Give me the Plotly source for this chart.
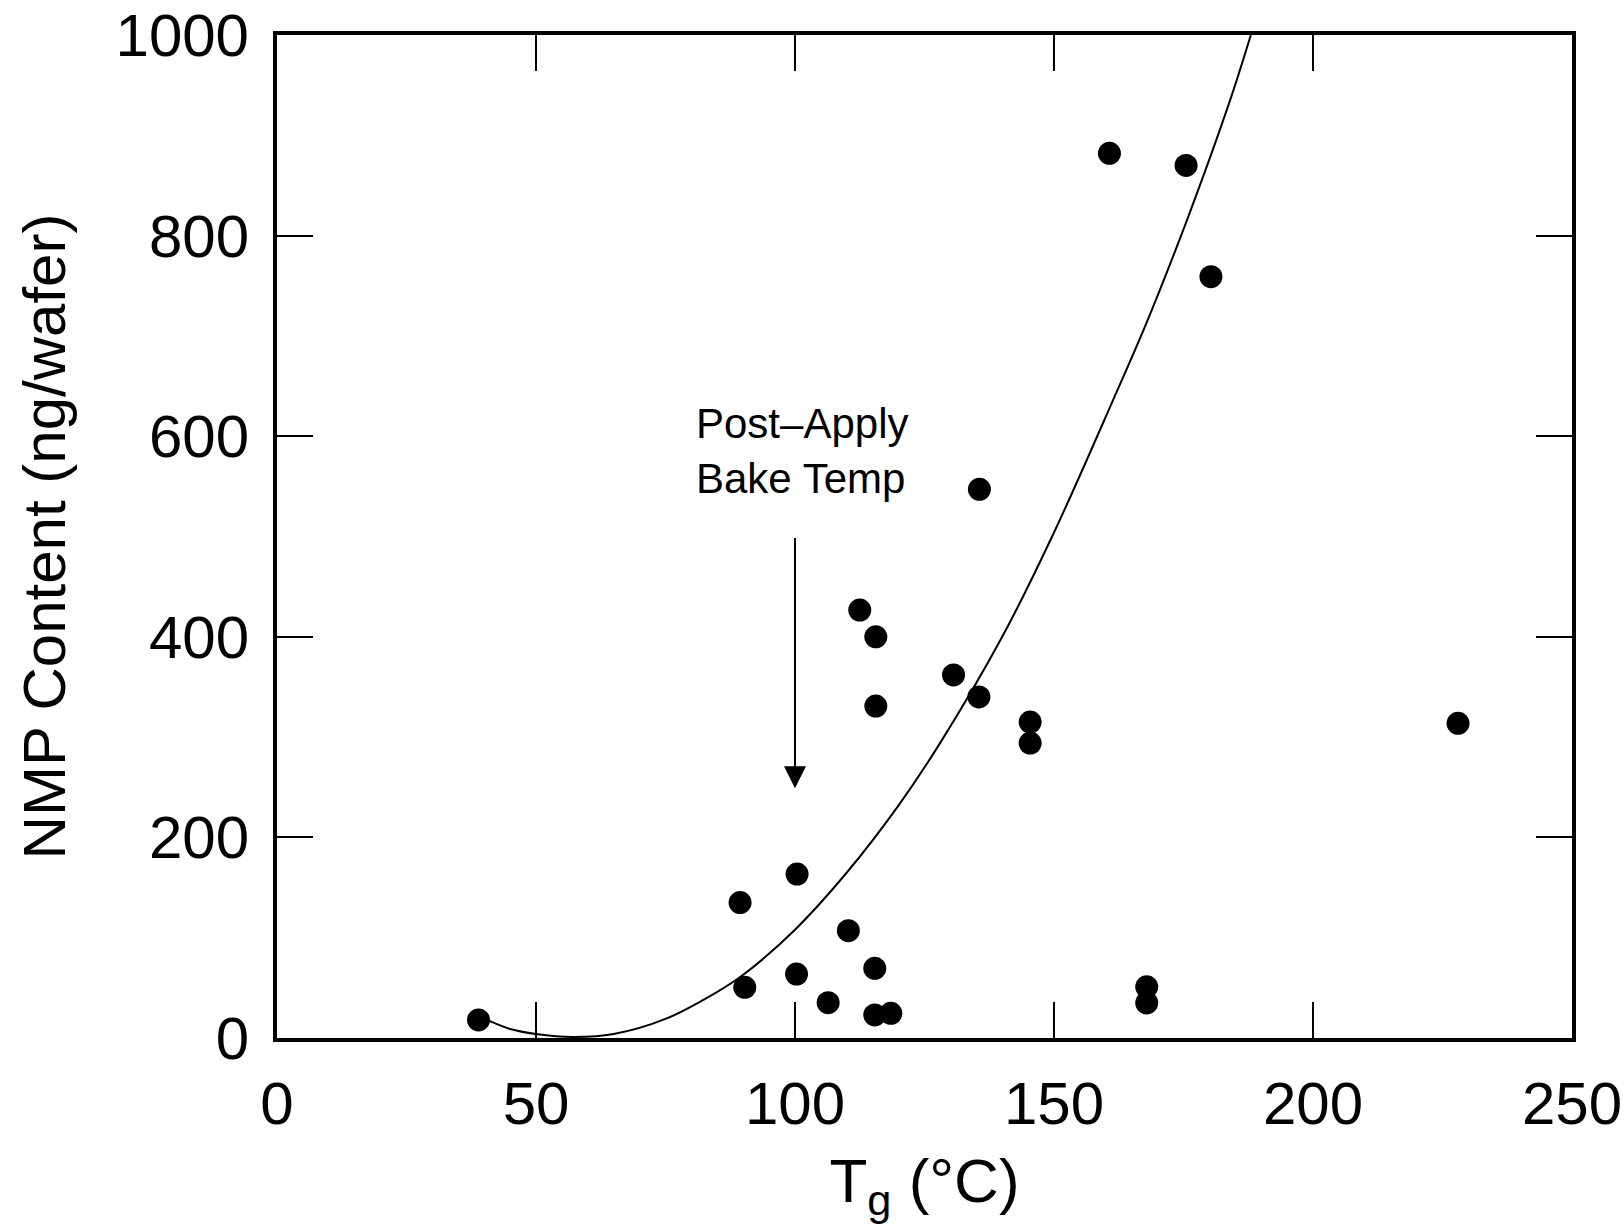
import plotly.graph_objects as go

# Measured points: glass transition temperature (°C) vs NMP content (ng/wafer)
tg = [38.9, 89.4, 90.3, 100.4, 100.3, 106.4, 110.3, 112.5, 115.6, 115.6,
      115.4, 115.4, 118.5, 130.6, 135.6, 135.5, 145.4, 145.4, 160.7, 175.5,
      180.3, 167.9, 167.9, 228.0]
nmp = [18, 135, 50.5, 163.5, 63.8, 35.2, 107, 426.7, 400, 331,
       69.5, 23, 24.6, 362, 547, 340, 315, 294, 882, 870,
       759, 51, 35, 313.7]

# Fitted trend curve
curve_x = [41, 45, 50, 57, 65, 75, 85, 90, 100, 110, 120, 128, 140, 150,
           161.4, 168.1, 176, 184, 188]
curve_y = [17, 9, 4, 1, 4, 19, 46, 63, 108, 165, 232, 294, 400, 504,
           636, 716, 820, 935, 1000]

x_ticks = [0, 50, 100, 150, 200, 250]
y_ticks = [0, 200, 400, 600, 800, 1000]

FONT = "Liberation Sans, Arial, Helvetica, sans-serif"

fig = go.Figure()
fig.add_trace(go.Scatter(x=curve_x, y=curve_y, mode="lines",
                         line=dict(color="black", width=2, shape="spline"),
                         showlegend=False, hoverinfo="skip"))
fig.add_trace(go.Scatter(x=tg, y=nmp, mode="markers",
                         marker=dict(color="black", size=23, line=dict(width=0)),
                         showlegend=False))

fig.add_annotation(x=100, y=249, ax=100, ay=500, xref="x", yref="y",
                   axref="x", ayref="y", showarrow=True, text="",
                   arrowhead=2, arrowsize=2.2, arrowwidth=2, arrowcolor="black")
fig.add_annotation(x=101.3, y=585, xref="x", yref="y", showarrow=False,
                   text="Post–Apply<br>Bake Temp", align="left",
                   xanchor="center", yanchor="middle",
                   font=dict(family=FONT, size=42, color="black"))

axis_common = dict(showline=True, linecolor="black", linewidth=4, mirror="ticks",
                   ticks="inside", ticklen=36, tickwidth=2, tickcolor="black",
                   showgrid=False, zeroline=False, automargin=False,
                   tickfont=dict(family=FONT, size=60, color="black"))

fig.update_xaxes(range=[0, 250], tickvals=x_ticks, ticktext=[str(v) for v in x_ticks],
                 ticklabelstandoff=10,
                 title=dict(text="T<sub>g</sub> (°C)", standoff=24,
                            font=dict(family=FONT, size=62, color="black")),
                 **axis_common)
fig.update_yaxes(range=[0, 1000], tickvals=y_ticks, ticktext=[str(v) for v in y_ticks],
                 ticklabelstandoff=12,
                 title=dict(text="NMP Content (ng/wafer)", standoff=32,
                            font=dict(family=FONT, size=60, color="black")),
                 **axis_common)

fig.update_layout(width=1624, height=1227, autosize=False,
                  margin=dict(l=277, r=52, t=35, b=189),
                  plot_bgcolor="white", paper_bgcolor="white",
                  font=dict(family=FONT, color="black"))

fig.write_html("out.html")
